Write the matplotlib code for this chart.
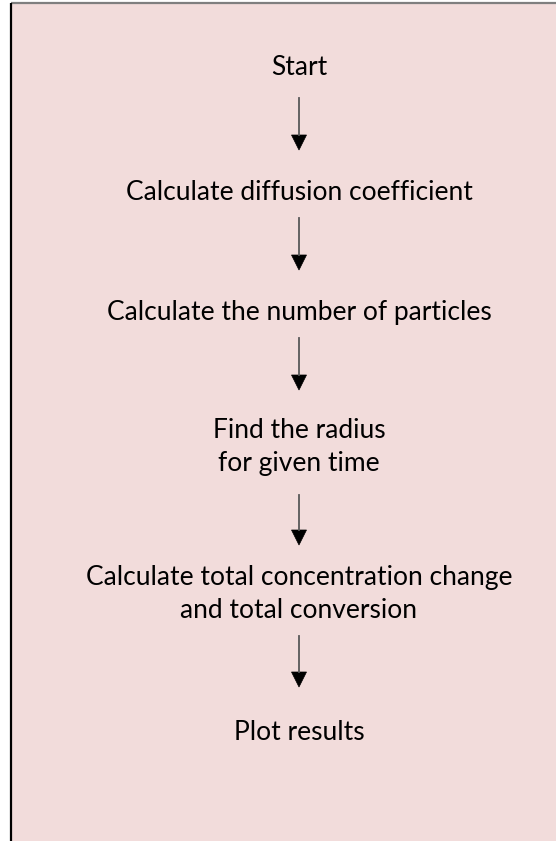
import matplotlib.pyplot as plt
from matplotlib.patches import Rectangle, Polygon

# flowchart steps (text) and baseline y of each line, in pixels from top
steps = ["Start",
         "Calculate diffusion coefficient",
         "Calculate the number of particles",
         "Find the radius\nfor given time",
         "Calculate total concentration change\nand total conversion",
         "Plot results"]
baselines = [75, 200, 320, 438, 585, 740]
line_gap = 33

# arrows between steps: (shaft top, tip)
arrows = [(98, 150), (218, 270), (338, 390), (495, 545), (636, 687)]

W, H = 556, 841
fig = plt.figure(figsize=(W / 100, H / 100), dpi=100)
ax = fig.add_axes([0, 0, 1, 1])
ax.set_xlim(0, W)
ax.set_ylim(H, 0)
ax.axis('off')

fill = '#f2dcdb'
ax.add_patch(Rectangle((11, 3), W, H, facecolor=fill, edgecolor='none'))
ax.plot([11, W], [3, 3], color='#7f7f7f', lw=1.6, solid_capstyle='butt')
ax.plot([11, 11], [3, H], color='black', lw=1.6, solid_capstyle='butt')

cx = 299
for text, y in zip(steps, baselines):
    for i, line in enumerate(text.split('\n')):
        ax.text(cx, y + i * line_gap, line, ha='center', va='baseline',
                fontsize=19, family='Lato', color='black')

for y0, y1 in arrows:
    head = 15
    ax.plot([cx, cx], [y0, y1 - head], color='#595959', lw=1.3)
    ax.add_patch(Polygon([[cx - 7.5, y1 - head], [cx + 7.5, y1 - head], [cx, y1]],
                         closed=True, facecolor='black', edgecolor='black', lw=0.5))

fig.savefig('out.png', dpi=100)
